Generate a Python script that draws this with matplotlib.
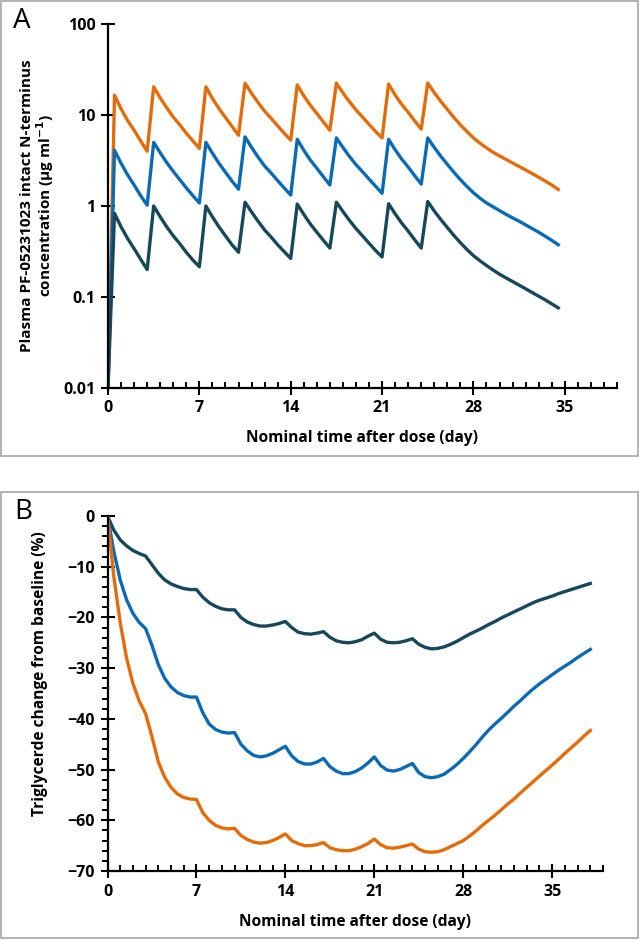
import numpy as np
import matplotlib
matplotlib.use("Agg")
import matplotlib.pyplot as plt
from matplotlib.patches import Rectangle
from matplotlib.ticker import FixedLocator, MultipleLocator, NullLocator

plt.rcParams["font.family"] = ["Open Sans", "DejaVu Sans"]

# ---- data: panel A (PK, log scale), half-day grid
t_pk = np.arange(0, 34.51, 0.5)
pk_high = [0.01, 16.5, 11.7, 8.7, 6.8, 5.2, 4.0,
           20.4, 15.4, 12.0, 9.5, 7.8, 6.3, 5.2, 4.3,
           20.4, 15.2, 11.8, 9.4, 7.5, 6.0,
           22.4, 17.3, 13.7, 11.0, 9.2, 7.6, 6.3, 5.3,
           21.4, 16.3, 12.8, 10.4, 8.4, 6.8,
           22.4, 17.5, 14.0, 11.4, 9.5, 7.9, 6.6, 5.6,
           21.9, 16.6, 13.1, 10.7, 8.6, 7.0,
           22.4, 17.6, 14.1, 11.5, 9.4, 7.8, 6.6, 5.6, 4.9, 4.35, 3.9,
           3.55, 3.25, 2.97, 2.72, 2.49, 2.27, 2.07, 1.88, 1.7, 1.52]
pk_mid = [0.01, 4.1, 2.95, 2.2, 1.7, 1.3, 1.02,
          5.0, 3.85, 3.0, 2.4, 1.95, 1.58, 1.3, 1.08,
          5.0, 3.8, 2.95, 2.35, 1.88, 1.53,
          5.75, 4.4, 3.45, 2.75, 2.3, 1.9, 1.58, 1.32,
          5.4, 4.1, 3.2, 2.6, 2.1, 1.7,
          5.6, 4.4, 3.5, 2.85, 2.38, 1.98, 1.65, 1.38,
          5.4, 4.15, 3.28, 2.68, 2.15, 1.74,
          5.6, 4.4, 3.52, 2.87, 2.35, 1.95, 1.64, 1.4, 1.22, 1.08, 0.98,
          0.89, 0.81, 0.74, 0.68, 0.62, 0.565, 0.515, 0.465, 0.42, 0.375]
pk_low = [0.01, 0.83, 0.59, 0.44, 0.34, 0.26, 0.2,
          1.0, 0.76, 0.59, 0.47, 0.385, 0.31, 0.255, 0.215,
          1.0, 0.76, 0.59, 0.47, 0.375, 0.31,
          1.1, 0.86, 0.68, 0.545, 0.455, 0.375, 0.315, 0.265,
          1.05, 0.81, 0.635, 0.515, 0.42, 0.345,
          1.1, 0.87, 0.695, 0.565, 0.47, 0.39, 0.325, 0.275,
          1.06, 0.82, 0.65, 0.53, 0.425, 0.345,
          1.12, 0.88, 0.71, 0.58, 0.475, 0.395, 0.333, 0.285, 0.25, 0.222, 0.198,
          0.178, 0.162, 0.148, 0.135, 0.123, 0.112, 0.102, 0.093, 0.084, 0.076]

# ---- data: panel B (triglyceride % change), half-day grid
t_tg = np.arange(0, 38.01, 0.5)
tg_low = [0, -2.8, -4.7, -5.9, -6.8, -7.4, -7.9,
          -9.6, -11.3, -12.6, -13.4, -13.9, -14.3, -14.5, -14.5,
          -16.0, -17.1, -17.8, -18.3, -18.5, -18.5,
          -20.0, -20.9, -21.4, -21.7, -21.7, -21.5, -21.2, -20.8,
          -22.0, -22.9, -23.2, -23.3, -23.1, -22.8,
          -23.9, -24.6, -24.9, -25.0, -24.8, -24.4, -23.7, -23.1,
          -24.3, -24.9, -25.0, -24.9, -24.6, -24.2,
          -25.3, -25.9, -26.2, -26.1, -25.8, -25.3, -24.7, -24.0,
          -23.3, -22.7, -22.1, -21.4, -20.8, -20.1, -19.5, -18.9, -18.3,
          -17.7, -17.1, -16.6, -16.2, -15.8, -15.3, -14.9, -14.5, -14.1, -13.7, -13.3]
tg_mid = [0, -7.0, -12.6, -16.5, -19.2, -21.0, -22.2,
          -25.5, -29.3, -32.0, -33.7, -34.8, -35.4, -35.7, -35.7,
          -38.8, -41.0, -42.1, -42.6, -42.8, -42.7,
          -45.0, -46.3, -47.2, -47.5, -47.3, -46.8, -46.1, -45.4,
          -47.3, -48.4, -48.9, -48.9, -48.5, -47.8,
          -49.4, -50.3, -50.8, -50.8, -50.4, -49.7, -48.7, -47.5,
          -49.2, -50.1, -50.3, -50.0, -49.4, -48.8,
          -50.6, -51.4, -51.6, -51.4, -50.9, -50.0, -49.0, -47.8,
          -46.5, -45.1, -43.6, -42.2, -41.0, -39.9, -38.7, -37.5, -36.4,
          -35.2, -34.1, -33.1, -32.2, -31.3, -30.4, -29.6, -28.8, -27.9, -27.1, -26.3]
tg_high = [0, -12.0, -21.0, -28.0, -33.0, -36.5, -39.0,
           -43.5, -48.5, -51.5, -53.5, -54.8, -55.5, -55.8, -55.9,
           -58.5, -60.0, -61.0, -61.5, -61.7, -61.6,
           -63.0, -63.8, -64.3, -64.5, -64.4, -64.0, -63.4, -62.7,
           -64.0, -64.6, -65.0, -65.0, -64.8, -64.4,
           -65.4, -65.8, -66.0, -66.0, -65.7, -65.2, -64.6, -63.7,
           -64.8, -65.4, -65.5, -65.3, -65.0, -64.7,
           -65.7, -66.2, -66.3, -66.2, -65.8, -65.2, -64.6, -64.0,
           -63.1, -62.1, -61.0, -60.0, -59.0, -57.9, -56.8, -55.8, -54.6,
           -53.5, -52.4, -51.3, -50.2, -49.1, -48.0, -46.8, -45.7, -44.6, -43.4, -42.3]

pk_ticks = [0.01, 0.1, 1, 10, 100]
pk_labels = ["0.01", "0.1", "1", "10", "100"]
day_ticks = [0, 7, 14, 21, 28, 35]

c_high, c_mid, c_low = "#E36C0A", "#0B6AB4", "#17485A"
W, H = 639, 941

fig = plt.figure(figsize=(W / 100, H / 100), dpi=100)

# panel frames
for top, bot in [(1, 456), (492, 938)]:
    fig.patches.append(Rectangle((1 / W, 1 - bot / H), 637 / W, (bot - top) / H,
                                 transform=fig.transFigure, fill=False,
                                 edgecolor="#A6A6A6", lw=1.2))

axA = fig.add_axes([108 / W, 1 - 388 / H, (617 - 108) / W, (388 - 24) / H])
axB = fig.add_axes([107.5 / W, 1 - 871 / H, (603 - 107.5) / W, (871 - 516) / H])

lw = 2.4
axA.plot(t_pk, pk_high, color=c_high, lw=lw, solid_joinstyle="round")
axA.plot(t_pk, pk_mid, color=c_mid, lw=lw, solid_joinstyle="round")
axA.plot(t_pk, pk_low, color=c_low, lw=lw, solid_joinstyle="round")
axA.set_yscale("log")
axA.set_ylim(0.01, 100)
axA.yaxis.set_major_locator(FixedLocator(pk_ticks))
axA.yaxis.set_minor_locator(NullLocator())
axA.set_yticklabels(pk_labels)

axB.plot(t_tg, tg_low, color=c_low, lw=lw, solid_joinstyle="round")
axB.plot(t_tg, tg_mid, color=c_mid, lw=lw, solid_joinstyle="round")
axB.plot(t_tg, tg_high, color=c_high, lw=lw, solid_joinstyle="round")
axB.set_ylim(-70, 0)
axB.yaxis.set_major_locator(MultipleLocator(10))
axB.yaxis.set_minor_locator(MultipleLocator(2))

for ax in (axA, axB):
    ax.set_xlim(0, 39)
    ax.set_xticks(day_ticks)
    ax.xaxis.set_minor_locator(MultipleLocator(1))
    for s in ("top", "right"):
        ax.spines[s].set_visible(False)
    for s in ("left", "bottom"):
        ax.spines[s].set_linewidth(1.6)
    ax.tick_params(which="major", direction="inout", length=10, width=1.5,
                   labelsize=11.5, pad=4)
    ax.tick_params(axis="x", which="minor", direction="in", length=4, width=1.4)
    ax.tick_params(axis="y", which="minor", direction="out", length=4, width=1.4)
    for lab in ax.get_xticklabels() + ax.get_yticklabels():
        lab.set_fontweight("bold")

# axis titles
fig.text(362 / W, 1 - 438 / H, "Nominal time after dose (day)", ha="center",
         va="center", fontsize=11.2, fontweight="bold")
fig.text(355 / W, 1 - 922 / H, "Nominal time after dose (day)", ha="center",
         va="center", fontsize=11.2, fontweight="bold")
fig.text(38 / W, 1 - 206 / H,
         "Plasma PF-05231023 intact N-terminus\nconcentration (µg ml$^{\\mathbf{-1}}$)",
         ha="center", va="center", rotation=90, fontsize=11,
         fontweight="bold", linespacing=1.05)
fig.text(40 / W, 1 - 674 / H, "Triglycerde change from baseline (%)",
         ha="center", va="center", rotation=90, fontsize=11.2, fontweight="bold")

fig.text(22 / W, 1 - 21 / H, "A", ha="center", va="center", fontsize=20)
fig.text(23 / W, 1 - 512 / H, "B", ha="center", va="center", fontsize=20)

fig.savefig("out.png", dpi=100)
